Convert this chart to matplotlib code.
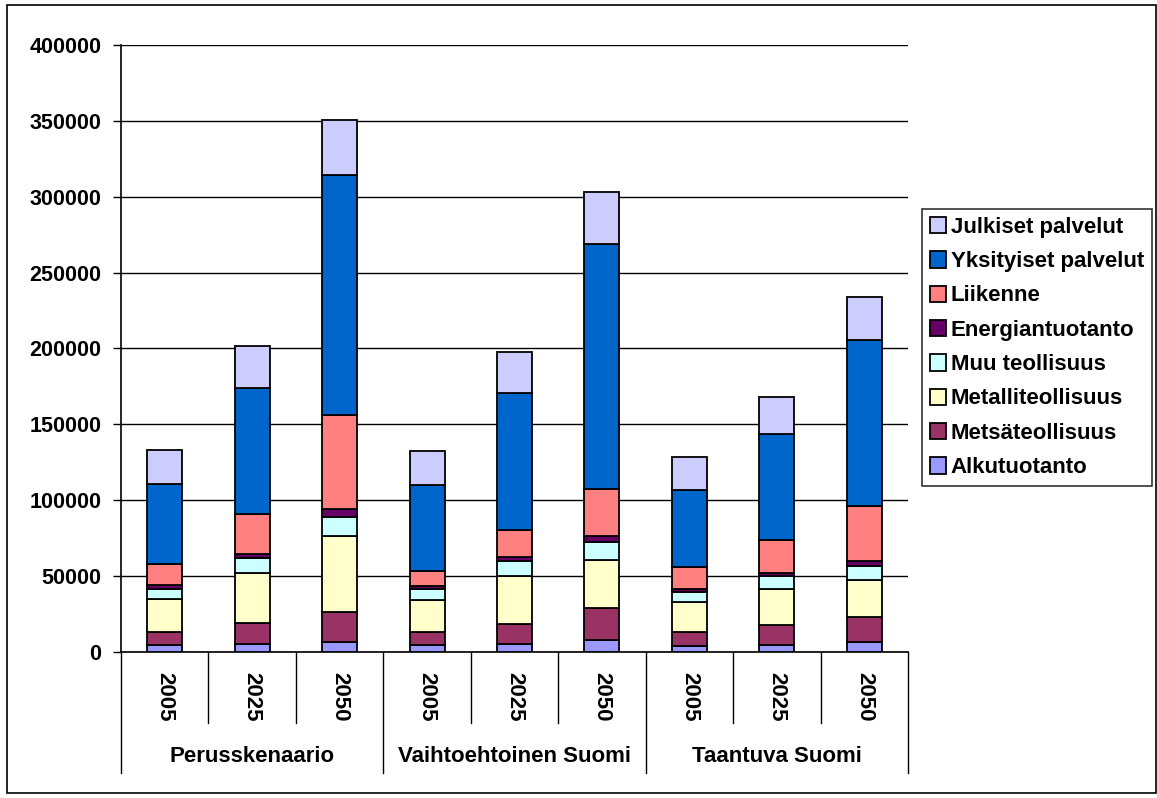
import numpy as np
import matplotlib.pyplot as plt
from matplotlib.patches import Rectangle

# Data
groups = ["Perusskenaario", "Vaihtoehtoinen Suomi", "Taantuva Suomi"]
years = ["2005", "2025", "2050"]

sectors = ["Alkutuotanto", "Metsäteollisuus", "Metalliteollisuus", "Muu teollisuus",
           "Energiantuotanto", "Liikenne", "Yksityiset palvelut", "Julkiset palvelut"]
colors = ["#9999FF", "#993366", "#FFFFCC", "#CCFFFF",
          "#660066", "#FF8080", "#0066CC", "#CCCCFF"]

alkutuotanto = [4300, 5400, 6900, 4300, 5400, 7600, 4100, 4750, 6500]
metsateollisuus = [9200, 13600, 19600, 9200, 13200, 21300, 9400, 12750, 16700]
metalliteollisuus = [21150, 33000, 49700, 20500, 31700, 31950, 19400, 24200, 24450]
muu_teollisuus = [6800, 9900, 12800, 7450, 9400, 11450, 6800, 8600, 8950]
energiantuotanto = [2650, 2900, 5250, 1950, 2900, 4100, 2000, 1700, 3100]
liikenne = [13850, 25950, 61650, 9700, 17600, 31300, 14300, 21600, 36500]
yksityiset = [53050, 83350, 158600, 57250, 90200, 161300, 50600, 69750, 109400]
julkiset = [22000, 27700, 36300, 21950, 27500, 34300, 22000, 24850, 28600]

values = [alkutuotanto, metsateollisuus, metalliteollisuus, muu_teollisuus,
          energiantuotanto, liikenne, yksityiset, julkiset]

W, H = 1157, 798
fig = plt.figure(figsize=(W / 100, H / 100), dpi=100)
plt.rcParams['font.family'] = ['Liberation Sans', 'DejaVu Sans']

# outer chart border
fig.patches.append(Rectangle((7 / W, 5 / H), 1149 / W, 788 / H, transform=fig.transFigure,
                             fill=False, edgecolor='black', linewidth=1.2))

ax = fig.add_axes([121 / W, 1 - 652 / H, 787 / W, 607 / H])

x = np.arange(len(groups) * len(years))
bottom = np.zeros(len(x))
handles = []
for name, vals, col in zip(sectors, values, colors):
    b = ax.bar(x, vals, 0.4, bottom=bottom, color=col, edgecolor='black',
               linewidth=1.3, label=name, zorder=3)
    handles.append(b)
    bottom += np.array(vals)

ax.set_xlim(-0.5, len(x) - 0.5)
ax.set_ylim(0, 400000)
ax.set_yticks(np.arange(0, 400001, 50000))
ax.set_yticklabels([str(v) for v in range(0, 400001, 50000)],
                   fontsize=15.5, fontweight='bold')
ax.tick_params(axis='y', direction='out', length=6, width=1, pad=8)
ax.yaxis.grid(True, color='black', linewidth=1, zorder=0)
ax.set_axisbelow(True)
ax.set_xticks([])
for s in ['top', 'right']:
    ax.spines[s].set_visible(False)
ax.spines['left'].set_linewidth(1.2)
ax.spines['bottom'].set_linewidth(1.2)

# category axis: year labels, group labels and separators
trans = ax.get_xaxis_transform()
ax_h = 607.0
year_bot = -(723 - 652) / ax_h
group_bot = -(773 - 652) / ax_h
for i in range(len(x) + 1):
    xb = i - 0.5
    yb = group_bot if i % 3 == 0 else year_bot
    ax.plot([xb, xb], [0, yb], transform=trans, color='black', linewidth=1,
            clip_on=False)
for i in range(len(x)):
    ax.text(i, -(697 - 652) / ax_h, years[i % 3], transform=trans, rotation=270,
            ha='center', va='center', fontsize=16, fontweight='bold')
for g, name in enumerate(groups):
    ax.text(g * 3 + 1, -(757 - 652) / ax_h, name, transform=trans,
            ha='center', va='center', fontsize=16, fontweight='bold')

leg = ax.legend(handles[::-1], sectors[::-1], loc='upper left',
                bbox_to_anchor=(922 / W, 1 - 209 / H), bbox_transform=fig.transFigure,
                prop={'weight': 'bold', 'size': 16}, frameon=True, fancybox=False,
                edgecolor='black', handlelength=0.75, handleheight=0.75,
                handletextpad=0.2, labelspacing=0.6, borderpad=0.35,
                borderaxespad=0)
leg.get_frame().set_linewidth(1.2)

fig.savefig("out.png", dpi=100)
